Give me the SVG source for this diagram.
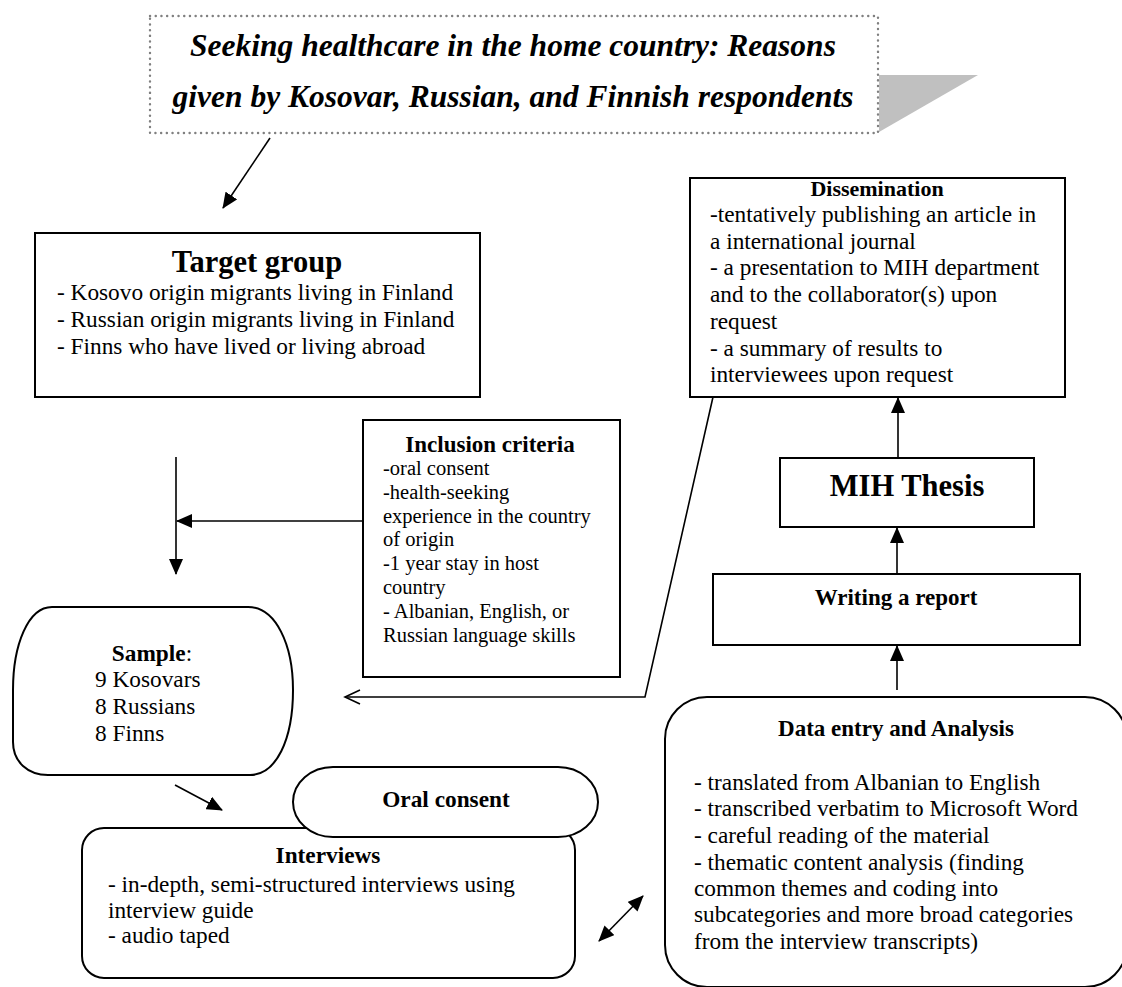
<svg xmlns="http://www.w3.org/2000/svg" width="1122" height="987" viewBox="0 0 1122 987">
<defs>
<style>
text{font-family:"Liberation Serif","Times New Roman",serif;fill:#000}
.b{font-weight:bold}
.t{font-size:31.5px;font-weight:bold;font-style:italic;text-anchor:middle}
.body{font-size:23.3px}
.sm{font-size:20.5px}
.c{text-anchor:middle}
.box{fill:#fff;stroke:#000;stroke-width:2}
.ln{fill:none;stroke:#000;stroke-width:1.6}
</style>
<marker id="ah" markerWidth="16" markerHeight="14" refX="15" refY="7" orient="auto-start-reverse" markerUnits="userSpaceOnUse"><path d="M0,0 L16,7 L0,14 Z" fill="#000"/></marker>
<marker id="open" markerWidth="18" markerHeight="16" refX="16" refY="8" orient="auto" markerUnits="userSpaceOnUse"><path d="M1,1 L16,8 L1,15" fill="none" stroke="#000" stroke-width="1.6"/></marker>
</defs>
<rect width="1122" height="987" fill="#fff"/>

<g id="title">
<polygon points="879,75 978,75 879,132" fill="#c0c0c0"/>
<rect x="150" y="16" width="728" height="117" fill="#fff" stroke="#808080" stroke-width="2.4" stroke-linecap="round" stroke-dasharray="0.1,5.6"/>
<text class="t" x="513" y="56">Seeking healthcare in the home country: Reasons</text>
<text class="t" x="513" y="107">given by Kosovar, Russian, and Finnish respondents</text>
</g>

<g id="connectors">
<line class="ln" x1="270" y1="138" x2="223" y2="208" marker-end="url(#ah)"/>
<line class="ln" x1="176" y1="457" x2="176" y2="574" marker-end="url(#ah)"/>
<line class="ln" x1="363" y1="521" x2="177" y2="521" marker-end="url(#ah)"/>
<polyline class="ln" points="713,397 645,697 345,697" marker-end="url(#open)"/>
<line class="ln" x1="175" y1="785" x2="222" y2="810" marker-end="url(#ah)"/>
<line class="ln" x1="599" y1="941" x2="643" y2="896" marker-start="url(#ah)" marker-end="url(#ah)"/>
<line class="ln" x1="897" y1="690" x2="897" y2="646" marker-end="url(#ah)"/>
<line class="ln" x1="897" y1="574" x2="897" y2="528" marker-end="url(#ah)"/>
<line class="ln" x1="898" y1="458" x2="898" y2="398" marker-end="url(#ah)"/>
</g>

<g id="target-group">
<rect class="box" x="35" y="233" width="445" height="164"/>
<text class="b c" x="257" y="272" font-size="30.5">Target group</text>
<text class="body" x="57" y="300">- Kosovo origin migrants living in Finland</text>
<text class="body" x="57" y="327">- Russian origin migrants living in Finland</text>
<text class="body" x="57" y="354">- Finns who have lived or living abroad</text>
</g>

<g id="dissemination">
<rect class="box" x="690" y="178" width="375" height="219"/>
<text class="b c" x="877" y="196" font-size="22">Dissemination</text>
<text class="body" x="710" y="222">-tentatively publishing an article in</text>
<text class="body" x="710" y="248.7">a international journal</text>
<text class="body" x="710" y="275.4">- a presentation to MIH department</text>
<text class="body" x="710" y="302">and to the collaborator(s) upon</text>
<text class="body" x="710" y="328.8">request</text>
<text class="body" x="710" y="355.5">- a summary of results to</text>
<text class="body" x="710" y="382">interviewees upon request</text>
</g>

<g id="inclusion-criteria">
<rect class="box" x="363" y="420" width="257" height="257"/>
<text class="b c" x="490" y="452" font-size="23">Inclusion criteria</text>
<text class="sm" x="383" y="475">-oral consent</text>
<text class="sm" x="383" y="499">-health-seeking</text>
<text class="sm" x="383" y="523">experience in the country</text>
<text class="sm" x="383" y="546">of origin</text>
<text class="sm" x="383" y="570">-1 year stay in host</text>
<text class="sm" x="383" y="594">country</text>
<text class="sm" x="383" y="618">- Albanian, English, or</text>
<text class="sm" x="383" y="642">Russian language skills</text>
</g>

<g id="mih-thesis">
<rect class="box" x="780" y="458" width="254" height="69"/>
<text class="b c" x="907" y="496" font-size="30.5">MIH Thesis</text>
</g>

<g id="writing-report">
<rect class="box" x="713" y="574" width="367" height="71"/>
<text class="b c" x="896" y="605" font-size="23">Writing a report</text>
</g>

<g id="sample">
<path class="box" d="M52,607 H248 C276,607 293,645 293,690 C293,740 276,775 250,775 H48 C28,775 13,762 13,742 V690 C13,645 28,607 52,607 Z"/>
<text class="body" x="152" y="661" text-anchor="middle"><tspan class="b">Sample</tspan>:</text>
<text class="body" x="95" y="687">9 Kosovars</text>
<text class="body" x="95" y="714">8 Russians</text>
<text class="body" x="95" y="741">8 Finns</text>
</g>

<g id="interviews">
<rect class="box" x="82" y="828" width="493" height="150" rx="22" ry="22"/>
<text class="b c" x="328" y="863" font-size="23.3">Interviews</text>
<text class="body" x="108" y="892">- in-depth, semi-structured interviews using</text>
<text class="body" x="108" y="918">interview guide</text>
<text class="body" x="108" y="943">- audio taped</text>
</g>

<g id="oral-consent">
<rect class="box" x="293" y="767" width="305" height="70" rx="40" ry="35"/>
<text class="b c" x="446" y="807" font-size="23.3">Oral consent</text>
</g>

<g id="data-analysis">
<rect class="box" x="665" y="697" width="462" height="290" rx="42" ry="42"/>
<text class="b c" x="896" y="736" font-size="23">Data entry and Analysis</text>
<text class="body" x="694" y="790">- translated from Albanian to English</text>
<text class="body" x="694" y="816">- transcribed verbatim to Microsoft Word</text>
<text class="body" x="694" y="843">- careful reading of the material</text>
<text class="body" x="694" y="870">- thematic content analysis (finding</text>
<text class="body" x="694" y="896">common themes and coding into</text>
<text class="body" x="694" y="922">subcategories and more broad categories</text>
<text class="body" x="694" y="949">from the interview transcripts)</text>
</g>
</svg>
